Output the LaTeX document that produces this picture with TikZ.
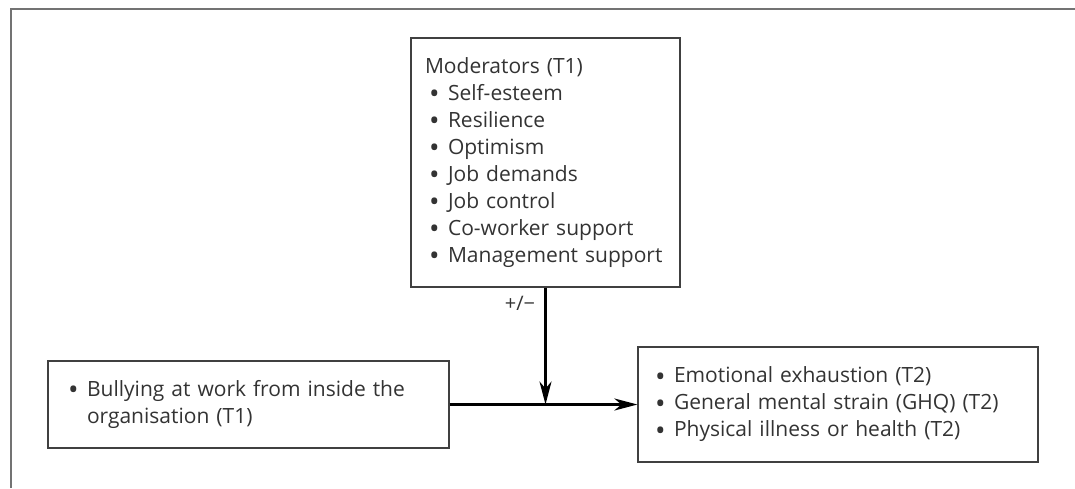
\documentclass[tikz,border=0pt]{standalone}
\usepackage{fontspec}
\setmainfont{Open Sans}
\usetikzlibrary{arrows.meta}
\newcommand{\bul}{\makebox[9.5pt][l]{\fontsize{14}{13.5}\selectfont\raisebox{-1.6pt}{•}}}

\begin{document}
\begin{tikzpicture}[x=1pt,y=-1pt]

      \useasboundingbox (0,0) rectangle (537.5,244);

      % Frame
      \draw[black!55,line width=1pt] (5.5,244) -- (5.5,4.5) -- (537.5,4.5);

      % Nodes
      \begin{scope}[every node/.style={rectangle,draw=black!75,line width=0.6pt,align=left,inner ysep=0pt,
          text=black!80,font=\fontsize{10.5}{13.5}\selectfont}]
        \node[text width=120.5pt,inner xsep=7pt,minimum height=124.5pt] (mod) at (272.75,81.25)
          {Moderators (T1)\\
           \hspace*{2pt}\bul Self-esteem\\
           \hspace*{2pt}\bul Resilience\\
           \hspace*{2pt}\bul Optimism\\
           \hspace*{2pt}\bul Job demands\\
           \hspace*{2pt}\bul Job control\\
           \hspace*{2pt}\bul Co-worker support\\
           \hspace*{2pt}\bul Management support};
        \node[text width=180.5pt,inner xsep=10pt,minimum height=43.5pt] (bully) at (124.25,202.25)
          {\bul Bullying at work from inside the\\
           \hspace*{9.5pt}organisation (T1)};
        \node[text width=183pt,inner xsep=8.5pt,minimum height=57.5pt] (out) at (419,202.25)
          {\bul Emotional exhaustion (T2)\\
           \bul General mental strain (GHQ) (T2)\\
           \bul Physical illness or health (T2)};
      \end{scope}

      \coordinate (join) at (mod.south |- bully.east);
      \node[text=black!80,font=\fontsize{10}{11}\selectfont] (sign) at (260,151.5) {+/−};

      % Edges
      \begin{scope}[every edge/.style={draw,line width=1.3pt,-{Stealth[length=11.5pt,width=6pt,inset=3.5pt]}}]
        \path (mod) edge (join);
        \path (bully) edge (out);
      \end{scope}

\end{tikzpicture}
\end{document}
